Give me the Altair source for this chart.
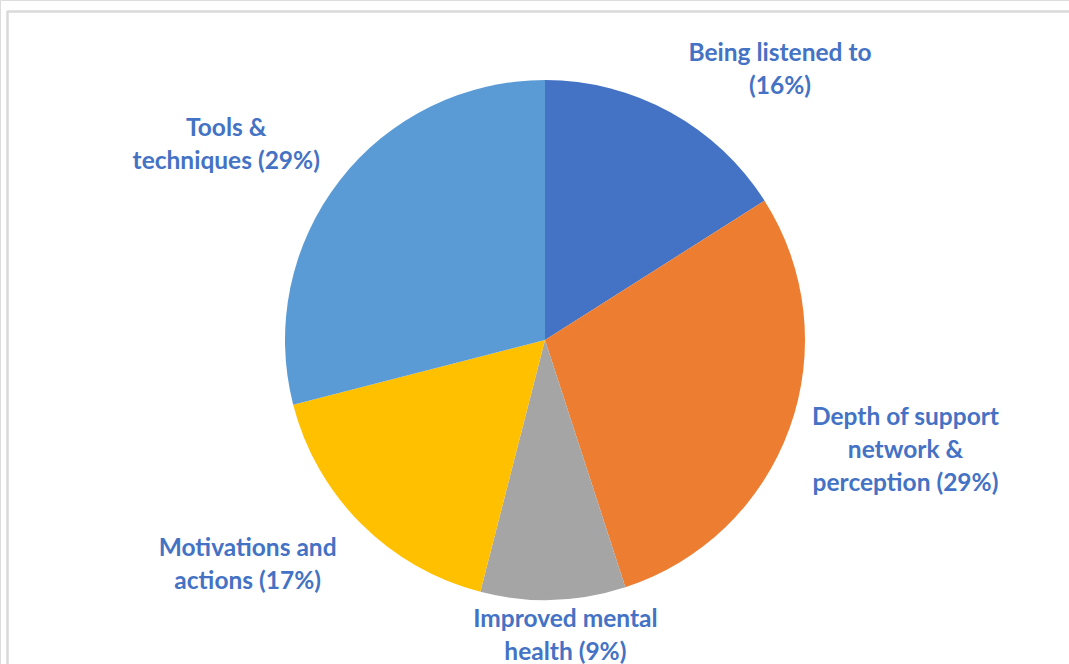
import altair as alt
import pandas as pd

categories = [
    "Being listened to",
    "Depth of support network & perception",
    "Improved mental health",
    "Motivations and actions",
    "Tools & techniques",
]
values = [16, 29, 9, 17, 29]
label_lines = [
    "Being listened to\n(16%)",
    "Depth of support\nnetwork &\nperception (29%)",
    "Improved mental\nhealth (9%)",
    "Motivations and\nactions (17%)",
    "Tools &\ntechniques (29%)",
]
colors = ["#4472C4", "#ED7D31", "#A5A5A5", "#FFC000", "#5B9BD5"]

df = pd.DataFrame({
    "category": categories,
    "value": values,
    "label": label_lines,
    "idx": list(range(len(categories))),
})

# layout/style constants
CX, CY = 545, 340
offsets = [(76, 3), (50, -34), (10, -50), (-64, -24), (-58, -9)]
LABEL_R = 330

base = alt.Chart(df).encode(
    theta=alt.Theta("value:Q", stack=True),
    order=alt.Order("idx:Q", sort="ascending"),
    x=alt.value(CX),
    y=alt.value(CY),
)

pie = base.mark_arc(radius=260, stroke=None).encode(
    color=alt.Color("category:N", scale=alt.Scale(domain=categories, range=colors), legend=None)
)

layers = [pie]
for i, cat in enumerate(categories):
    dx, dy = offsets[i]
    t = base.transform_calculate(
        lab=f"datum.category === {repr(cat)} ? datum.label : ''"
    ).mark_text(
        radius=LABEL_R, dx=dx, dy=dy, lineBreak="\n", lineHeight=33,
        font="Lato", fontWeight="bold", fontSize=24.5, color="#4472C4",
        align="center", baseline="middle",
    ).encode(text="lab:N")
    layers.append(t)

border_top = alt.Chart(df).mark_rule(color="#D9D9D9", strokeWidth=1.5).encode(
    x=alt.value(7), x2=alt.value(1069), y=alt.value(11.5)
)
border_left = alt.Chart(df).mark_rule(color="#D9D9D9", strokeWidth=1.5).encode(
    x=alt.value(7.5), y=alt.value(11), y2=alt.value(664)
)

chart = alt.layer(border_top, border_left, *layers).properties(
    width=1069, height=664,
    padding=0,
    autosize=alt.AutoSizeParams(type="none"),
).configure_view(stroke=None).configure(background="white")

chart.save("out.html", embed_options={"renderer": "svg", "actions": False})
